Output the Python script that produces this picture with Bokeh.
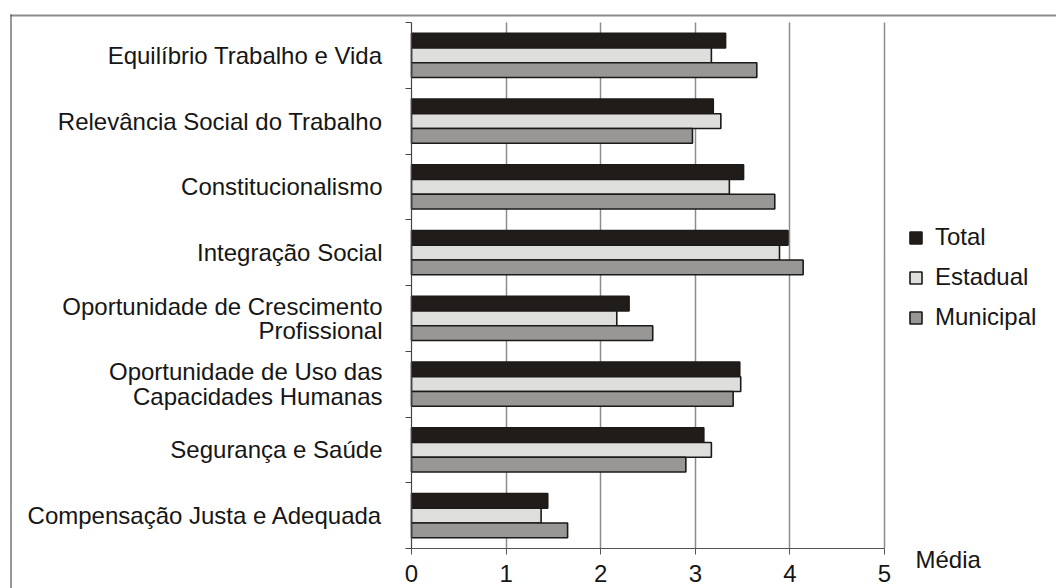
from bokeh.plotting import figure
from bokeh.models import (ColumnDataSource, FixedTicker, Legend, LegendItem, Label,
                          BoxAnnotation, Range1d)
from bokeh.embed import file_html
from bokeh.resources import INLINE

# ---- data ----
categories = [
    "Equilíbrio Trabalho e Vida",
    "Relevância Social do Trabalho",
    "Constitucionalismo",
    "Integração Social",
    "Oportunidade de Crescimento\nProfissional",
    "Oportunidade de Uso das\nCapacidades Humanas",
    "Segurança e Saúde",
    "Compensação Justa e Adequada",
]
total = [3.32, 3.19, 3.51, 3.98, 2.30, 3.47, 3.09, 1.44]
estadual = [3.17, 3.27, 3.36, 3.89, 2.17, 3.48, 3.17, 1.37]
municipal = [3.65, 2.97, 3.84, 4.14, 2.55, 3.40, 2.90, 1.65]
series_names = ["Total", "Estadual", "Municipal"]
x_ticks = [0, 1, 2, 3, 4, 5]
x_label = "Média"

# ---- layout / styles ----
W, H = 1056, 588
X_LO_PX, X_HI_PX = 411, 884      # pixel positions of x = 0 and x = 5
Y_TOP_PX, Y_BOT_PX = 22, 548     # pixel positions of top and bottom of category band
FONT = "Liberation Sans"
FS = "24px"
TXT = "#161616"
colors = ["#201c1a", "#dededc", "#989795"]
bar_h = 0.225
offsets = [bar_h, 0.0, -bar_h]

n = len(categories)
xmax = x_ticks[-1]
ppu_x = (X_HI_PX - X_LO_PX) / xmax
ppu_y = (Y_BOT_PX - Y_TOP_PX) / n
centers = [n - 0.5 - i for i in range(n)]

p = figure(width=W, height=H,
           x_range=Range1d(-X_LO_PX / ppu_x, (W - X_LO_PX) / ppu_x),
           y_range=Range1d(-(H - Y_BOT_PX) / ppu_y, n + Y_TOP_PX / ppu_y),
           output_backend="svg", toolbar_location=None, min_border=0)
p.outline_line_color = None
p.background_fill_color = "white"
p.border_fill_color = "white"

series = [total, estadual, municipal]
renderers = []
for k, (name, vals) in enumerate(zip(series_names, series)):
    src = ColumnDataSource(dict(y=[c + offsets[k] for c in centers], v=vals))
    r = p.hbar(y="y", left=0, right="v", height=bar_h, source=src,
               fill_color=colors[k], line_color="#1c1a18", line_width=1.6)
    renderers.append(r)

# x axis
xa = p.xaxis[0]
xa.fixed_location = 0
xa.bounds = (0, xmax)
xa.ticker = FixedTicker(ticks=x_ticks)
xa.axis_line_color = "#555555"
xa.axis_line_width = 1
xa.major_tick_line_color = "#555555"
xa.major_tick_out = 6
xa.major_tick_in = 0
xa.minor_tick_out = 0
xa.minor_tick_in = 0
xa.major_label_standoff = 10
xa.major_label_text_font = FONT
xa.major_label_text_font_size = FS
xa.major_label_text_color = TXT

# y axis
ya = p.yaxis[0]
ya.fixed_location = 0
ya.bounds = (0, n)
ya.ticker = FixedTicker(ticks=centers, minor_ticks=list(range(n + 1)))
ya.major_label_overrides = {c: lab for c, lab in zip(centers, categories)}
ya.major_tick_out = 0
ya.major_tick_in = 0
ya.minor_tick_out = 6
ya.minor_tick_in = 0
ya.minor_tick_line_color = "#444444"
ya.axis_line_color = "#444444"
ya.axis_line_width = 1.2
ya.major_label_standoff = 23
ya.major_label_text_font = FONT
ya.major_label_text_font_size = FS
ya.major_label_text_color = TXT
ya.major_label_text_line_height = 0.9

# grid
p.ygrid.visible = False
p.xgrid.ticker = FixedTicker(ticks=x_ticks[1:])
p.xgrid.cross_bounds = (0, n)
p.xgrid.grid_line_color = "#8c8c8c"
p.xgrid.grid_line_width = 1.5

# legend
legend = Legend(items=[LegendItem(label=nm, renderers=[r]) for nm, r in zip(series_names, renderers)],
                location=(908, 257), orientation="vertical",
                glyph_width=15, glyph_height=15, label_standoff=12, spacing=12,
                padding=0, margin=0, border_line_color=None, background_fill_alpha=0,
                label_text_font=FONT, label_text_font_size=FS, label_text_color=TXT)
p.add_layout(legend, "center")

# "Média" label
p.add_layout(Label(x=915, y=H - 559, x_units="screen", y_units="screen", text=x_label,
                   text_font=FONT, text_font_size=FS, text_color=TXT,
                   text_baseline="alphabetic"))

# outer frame (top and left edges)
p.add_layout(BoxAnnotation(left=10, right=W, top=14, bottom=16,
                           left_units="canvas", right_units="canvas",
                           top_units="canvas", bottom_units="canvas",
                           fill_color="#8c8c8c", fill_alpha=1, line_color=None))
p.add_layout(BoxAnnotation(left=10, right=11, top=14, bottom=H,
                           left_units="canvas", right_units="canvas",
                           top_units="canvas", bottom_units="canvas",
                           fill_color="#333333", fill_alpha=1, line_color=None))

open("out.html", "w").write(file_html(p, INLINE))
